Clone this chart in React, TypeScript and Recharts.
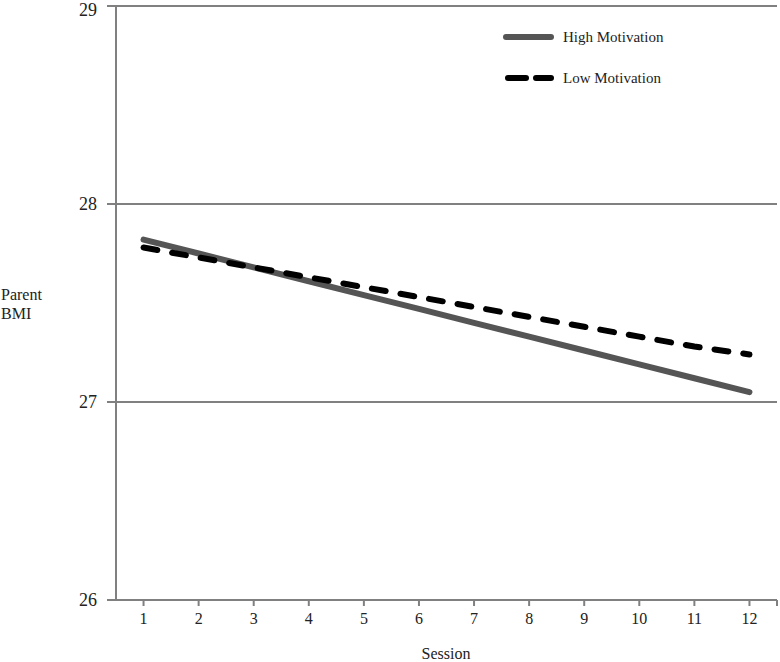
import React from 'react';
import { LineChart, Line, XAxis, YAxis, CartesianGrid } from 'recharts';

const sessions = [1, 2, 3, 4, 5, 6, 7, 8, 9, 10, 11, 12];
const highMotivation = [27.82, 27.75, 27.68, 27.61, 27.54, 27.47, 27.40, 27.33, 27.26, 27.19, 27.12, 27.05];
const lowMotivation = [27.78, 27.73, 27.68, 27.63, 27.58, 27.53, 27.48, 27.43, 27.38, 27.33, 27.28, 27.24];
const xTicks = [1, 2, 3, 4, 5, 6, 7, 8, 9, 10, 11, 12, 12.5];
const yTicks = [26, 27, 28, 29];
const seriesNames = ['High Motivation', 'Low Motivation'];

const data = sessions.map((s, i) => ({ session: s, high: highMotivation[i], low: lowMotivation[i] }));

const FONT = '"Liberation Serif", "Times New Roman", serif';
const AXIS = '#808080';
const TEXT = '#222';

const LegendBox = () => (
  <svg width={220} height={60} style={{ position: 'absolute', left: 500, top: 30 }}>
    <line x1={6} y1={7} x2={51} y2={7} stroke="#555" strokeWidth={6} strokeLinecap="round" />
    <text x={63} y={12} fontFamily={FONT} fontSize={15} fill={TEXT}>{seriesNames[0]}</text>
    <line x1={8} y1={48} x2={26} y2={48} stroke="#000" strokeWidth={6} strokeLinecap="round" />
    <line x1={36} y1={48} x2={51} y2={48} stroke="#000" strokeWidth={6} strokeLinecap="round" />
    <text x={63} y={53} fontFamily={FONT} fontSize={15} fill={TEXT}>{seriesNames[1]}</text>
  </svg>
);

const YLabel = () => (
  <text fontFamily={FONT} fontSize={16} fill={TEXT}>
    <tspan x={1} y={300}>Parent</tspan>
    <tspan x={1} y={319}>BMI</tspan>
  </text>
);

const XLabel = () => (
  <text x={446} y={659} textAnchor="middle" fontFamily={FONT} fontSize={16} fill={TEXT}>Session</text>
);

const YTick = (props: any) => {
  const { x, y, payload } = props;
  const shift = payload.value === 29 ? 4 : 0;
  return (
    <text x={x} y={y + shift} dy="0.35em" textAnchor="end" fontFamily={FONT} fontSize={18} fill={TEXT}>
      {payload.value}
    </text>
  );
};

export default function App() {
  return (
    <div style={{ position: 'absolute', left: 0, top: 0, width: 780, height: 662, background: '#fff' }}>
      <LineChart width={780} height={662} data={data} margin={{ top: 6, right: 3, bottom: 0, left: 0 }}>
        <CartesianGrid horizontal vertical={false} stroke={AXIS} strokeWidth={2} />
        <XAxis
          dataKey="session"
          type="number"
          domain={[0.5, 12.5]}
          ticks={xTicks}
          interval={0}
          height={62}
          tickFormatter={(v) => (v === 12.5 ? '' : String(v))}
          stroke={AXIS}
          strokeWidth={2}
          tickSize={6}
          tickMargin={7}
          tick={{ fontFamily: FONT, fontSize: 16, fill: TEXT }}
          label={<XLabel />}
        />
        <YAxis
          type="number"
          domain={[26, 29]}
          ticks={yTicks}
          interval={0}
          width={116}
          stroke={AXIS}
          strokeWidth={2}
          tickSize={9}
          tickMargin={10}
          tick={<YTick />}
          label={<YLabel />}
        />
        <Line
          dataKey="high"
          name={seriesNames[0]}
          stroke="#555"
          strokeWidth={6}
          strokeLinecap="round"
          dot={false}
          isAnimationActive={false}
        />
        <Line
          dataKey="low"
          name={seriesNames[1]}
          stroke="#000"
          strokeWidth={6}
          strokeLinecap="round"
          strokeDasharray="14 15"
          dot={false}
          isAnimationActive={false}
        />
      </LineChart>
      <LegendBox />
    </div>
  );
}
